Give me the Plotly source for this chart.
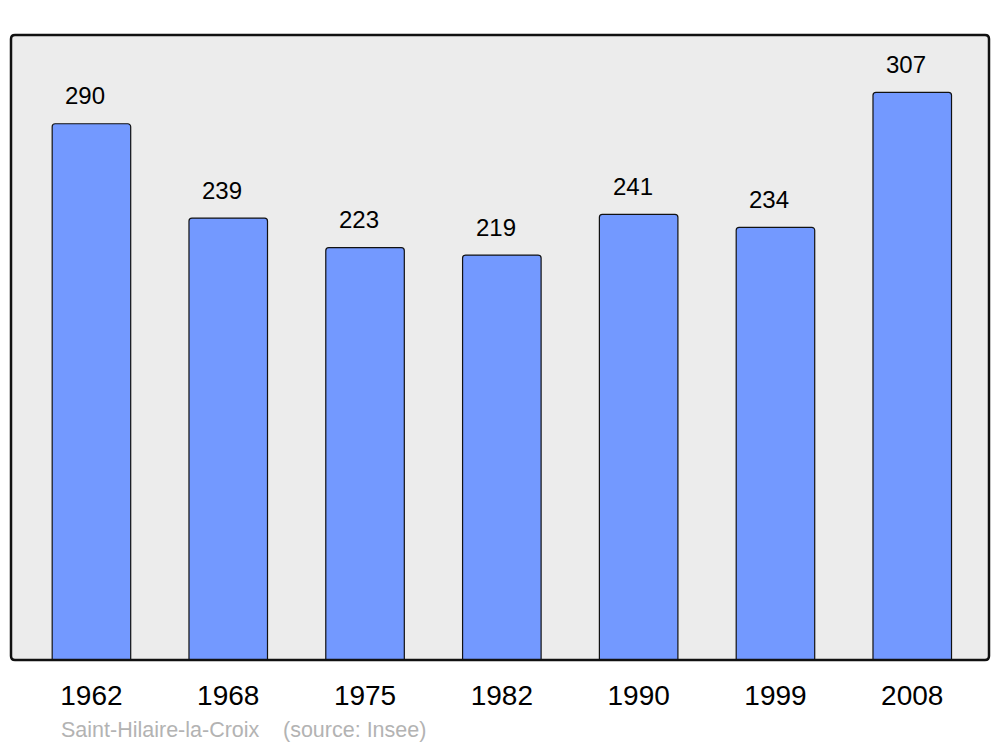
import plotly.graph_objects as go

years = ["1962", "1968", "1975", "1982", "1990", "1999", "2008"]
population = [290, 239, 223, 219, 241, 234, 307]
commune = "Saint-Hilaire-la-Croix"
source = "(source: Insee)"

FONT = "Liberation Sans, Arial, sans-serif"
OFF = 8  # browser default body margin
W, H = 1000 - OFF, 747 - OFF
# target page-pixel edges of the plot frame
L_PX, R_PX, T_PX, B_PX = 11, 989, 34.5, 660
ML = L_PX - OFF
MR = W - (R_PX - OFF)
MT = T_PX - OFF
MB = H - (B_PX - OFF)
PW = W - ML - MR
PH = H - MT - MB

idx = list(range(len(years)))

fig = go.Figure()
fig.add_trace(go.Bar(
    x=idx, y=population, width=0.574,
    marker=dict(color="#7399ff", line=dict(color="#111111", width=1.2), cornerradius=3),
    hovertext=years, hoverinfo="text+y",
))

for i, v in zip(idx, population):
    fig.add_annotation(x=i, y=v, xref="x", yref="y", text=str(v), showarrow=False,
                       xshift=-6, yshift=28, yanchor="middle",
                       font=dict(family=FONT, size=24, color="#000"))

def px2paper_x(px):
    return (px - OFF - ML) / PW

def px2paper_y(py):
    return 1 - (py - OFF - MT) / PH

fig.add_annotation(xref="paper", yref="paper", x=px2paper_x(59), y=px2paper_y(730),
                   xanchor="left", yanchor="middle", text=commune, showarrow=False,
                   font=dict(family=FONT, size=21.5, color="#b3b3b3"))
fig.add_annotation(xref="paper", yref="paper", x=px2paper_x(281), y=px2paper_y(730),
                   xanchor="left", yanchor="middle", text=source, showarrow=False,
                   font=dict(family=FONT, size=21.5, color="#b3b3b3"))

rx, ry = 4 / PW, 4 / PH
path = (f"M {rx},0 L {1-rx},0 Q 1,0 1,{ry} L 1,{1-ry} Q 1,1 {1-rx},1 "
        f"L {rx},1 Q 0,1 0,{1-ry} L 0,{ry} Q 0,0 {rx},0 Z")
fig.add_shape(type="path", path=path, xref="paper", yref="paper",
              fillcolor="#ececec", line=dict(width=0), layer="below")
fig.add_shape(type="path", path=path, xref="paper", yref="paper",
              fillcolor="rgba(0,0,0,0)", line=dict(color="#111111", width=2.5), layer="above")

fig.update_layout(
    width=W, height=H,
    margin=dict(l=ML, r=MR, t=MT, b=MB, pad=0),
    paper_bgcolor="white", plot_bgcolor="rgba(0,0,0,0)",
    showlegend=False,
    xaxis=dict(range=[-0.588, 6.561], tickvals=idx, ticktext=years,
               showgrid=False, zeroline=False, showline=False, ticks="",
               ticklabelstandoff=16,
               tickfont=dict(family=FONT, size=28, color="#000")),
    yaxis=dict(range=[0, 338], showgrid=False, zeroline=False, showline=False,
               showticklabels=False, ticks=""),
)

fig.write_html("out.html")
